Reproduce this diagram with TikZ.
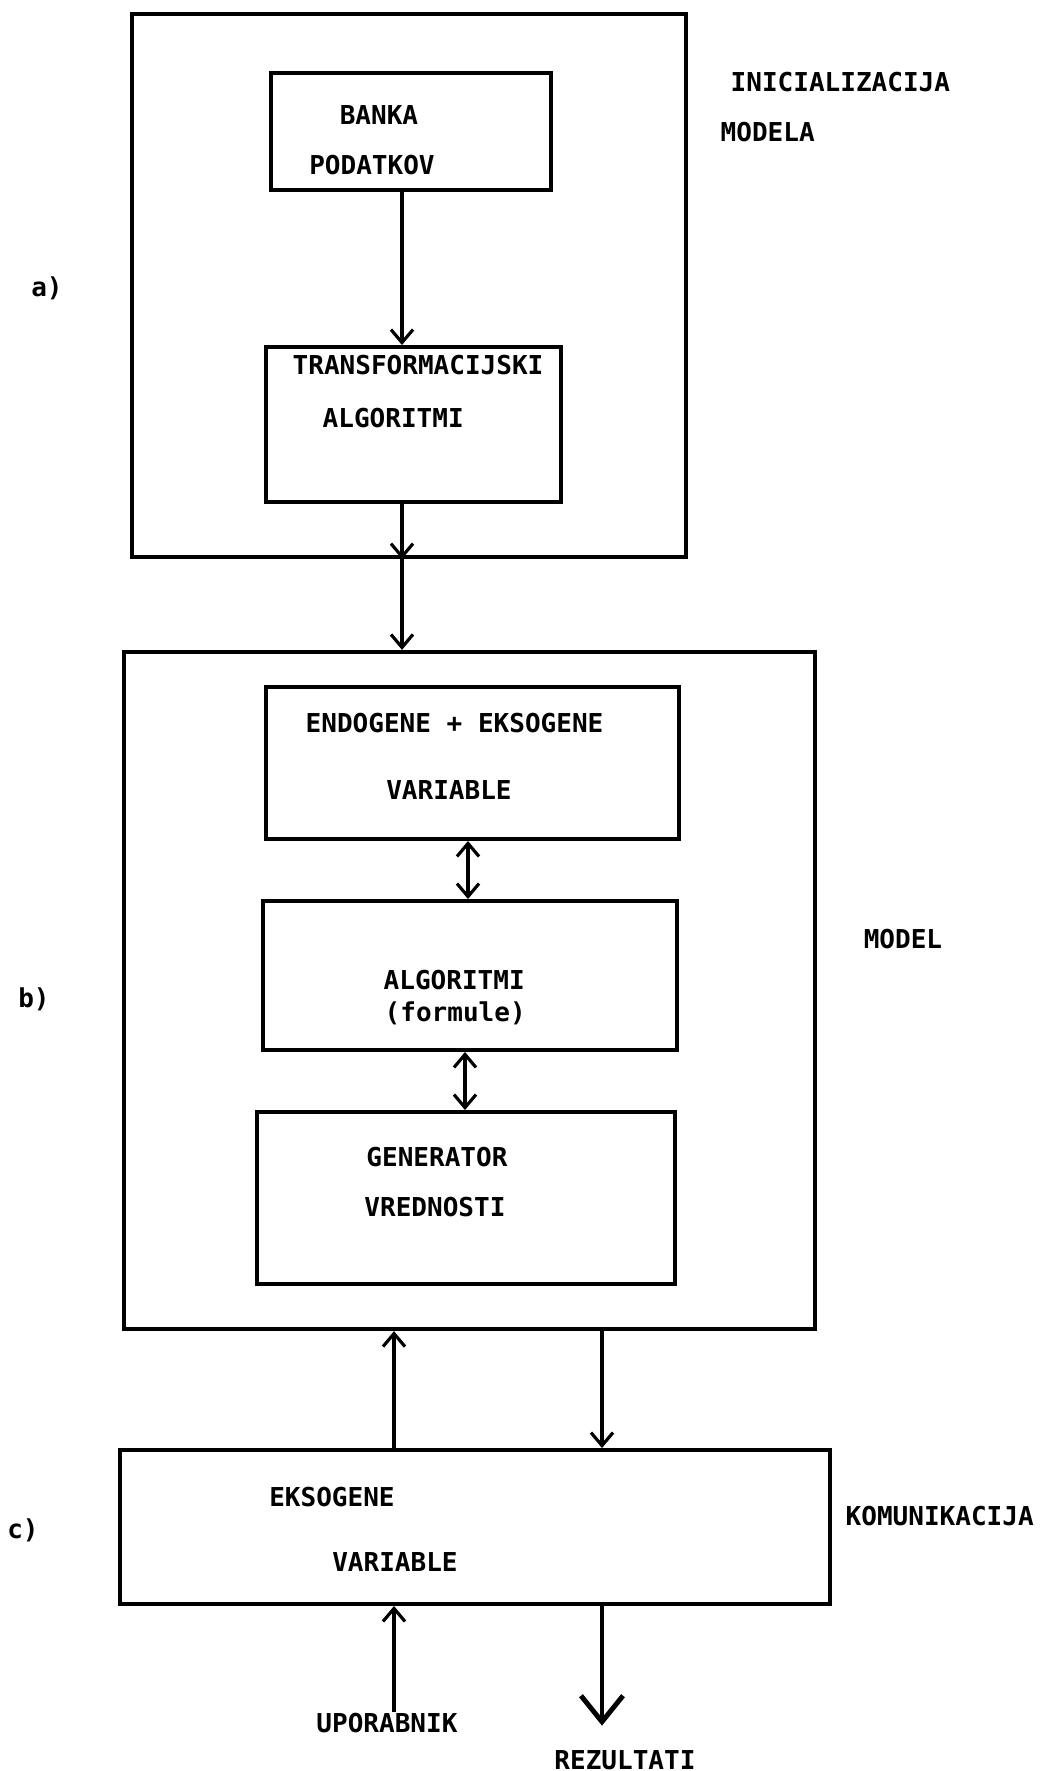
\documentclass[tikz,border=0pt]{standalone}
\usepackage{fontspec}
\setmonofont{DejaVu Sans Mono}
\usetikzlibrary{calc,arrows.meta}

\begin{document}
\begin{tikzpicture}[x=0.01cm, y=-0.01cm,
	>={Straight Barb[length=1.3mm,width=2.2mm]},
	box/.style={draw, line width=1.1pt, inner sep=0pt},
	txt/.style={font=\ttfamily\bfseries\fontsize{7.4}{9}\selectfont, inner sep=0pt},
	arr/.style={line width=0.9pt, ->},
	darr/.style={line width=0.9pt, <->},
	bigarr/.style={line width=0.9pt, -{Straight Barb[length=2.6mm,width=4.2mm,line width=1.4pt]}}]
\useasboundingbox (0,0) rectangle (1041,1771);

% a) inicializacija modela
\node[box, minimum width=5.54cm, minimum height=5.43cm] (outA) at (409,285.5) {};
\node[box, minimum width=2.80cm, minimum height=1.17cm] (banka) at (411,131.5) {};
\node[box, minimum width=2.95cm, minimum height=1.55cm] (transf) at (413.5,424.5) {};
\node[txt] (banka1) at (379,115) {BANKA};
\node[txt] (banka2) at (372,165) {PODATKOV};
\node[txt, anchor=west] (transf1) at (292,365) {TRANSFORMACIJSKI};
\node[txt, anchor=west] (transf2) at (322,418) {ALGORITMI};
\node[txt, anchor=west] (init1) at (730,82) {INICIALIZACIJA};
\node[txt, anchor=west] (init2) at (720,132) {MODELA};
\node[txt] (la) at (47,288) {a)};

% b) model
\node[box, minimum width=6.91cm, minimum height=6.77cm] (outB) at (469.5,990.5) {};
\node[box, minimum width=4.13cm, minimum height=1.52cm] (endo) at (472.5,763) {};
\node[box, minimum width=4.14cm, minimum height=1.49cm] (algo) at (470,975.5) {};
\node[box, minimum width=4.18cm, minimum height=1.72cm] (gen) at (466,1198) {};
\node[txt, anchor=west] (endo1) at (305,723) {ENDOGENE + EKSOGENE};
\node[txt] (endo2) at (449,790) {VARIABLE};
\node[txt, anchor=west] (algo1) at (383,980) {ALGORITMI};
\node[txt, anchor=west] (algo2) at (384,1013) {(formule)};
\node[txt] (gen1) at (437,1157) {GENERATOR};
\node[txt] (gen2) at (435,1207) {VREDNOSTI};
\node[txt] (model) at (903,939) {MODEL};
\node[txt] (lb) at (34,999) {b)};

% c) komunikacija
\node[box, minimum width=7.10cm, minimum height=1.54cm] (outC) at (475,1527) {};
\node[txt] (eks1) at (332,1497) {EKSOGENE};
\node[txt] (eks2) at (395,1562) {VARIABLE};
\node[txt, anchor=west] (komun) at (845,1516) {KOMUNIKACIJA};
\node[txt] (lc) at (23,1530) {c)};
\node[txt] (upor) at (387,1723) {UPORABNIK};
\node[txt] (rez) at (625,1760) {REZULTATI};

% povezave
\coordinate (sA) at (402,0);
\coordinate (sB) at (468,0);
\coordinate (sC) at (465,0);
\coordinate (sL) at (394,0);
\coordinate (sR) at (602,0);
\draw[arr] (banka.south -| sA) -- (transf.north -| sA);
\draw[arr] (transf.south -| sA) -- (outA.south -| sA);
\draw[arr] (outA.south -| sA) -- (outB.north -| sA);
\draw[darr] (endo.south -| sB) -- (algo.north -| sB);
\draw[darr] (algo.south -| sC) -- (gen.north -| sC);
\draw[arr] (outC.north -| sL) -- (outB.south -| sL);
\draw[arr] (outB.south -| sR) -- (outC.north -| sR);
\draw[arr] (upor.north -| sL) -- (outC.south -| sL);
\draw[bigarr] (outC.south -| sR) -- ($(rez.north -| sR)+(0,-24)$);
\end{tikzpicture}
\end{document}
